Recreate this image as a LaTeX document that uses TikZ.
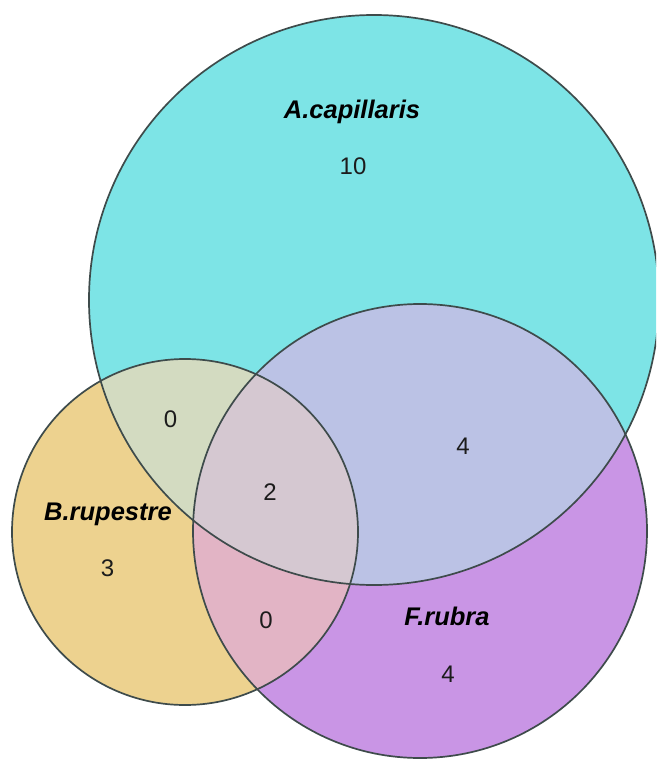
\documentclass[tikz,border=0pt]{standalone}
\usepackage{fontspec}
\setmainfont{Liberation Sans}
% set fills and their overlaps
\definecolor{fillA}{HTML}{7DE4E6}
\definecolor{fillB}{HTML}{EDD28F}
\definecolor{fillF}{HTML}{C995E5}
\definecolor{fillAB}{HTML}{D3DBC1}
\definecolor{fillAF}{HTML}{BBC2E5}
\definecolor{fillBF}{HTML}{E2B4C5}
\definecolor{fillABF}{HTML}{D5C8D1}
\definecolor{edgegray}{HTML}{3E4B4B}
\definecolor{textdark}{HTML}{1C1C1C}
% the three sets
\def\setA{(374,300) circle[radius=285pt]}
\def\setB{(185,532) circle[radius=173pt]}
\def\setF{(420,531) circle[radius=227pt]}
\begin{document}
\begin{tikzpicture}[x=1pt,y=-1pt,
  setline/.style={draw=edgegray, line width=1.7pt},
  count/.style={font=\fontsize{24}{28}\selectfont, text=textdark, anchor=base, inner sep=0pt},
  setname/.style={font=\fontsize{25.5}{30}\selectfont\bfseries\itshape, text=black, anchor=base, inner sep=0pt}]
  \clip (0,0) rectangle (656,759);
  \fill[white] (0,0) rectangle (656,759);
  % single-set fills
  \fill[fillA] \setA;
  \fill[fillB] \setB;
  \fill[fillF] \setF;
  % pairwise overlaps
  \begin{scope}
    \clip \setA;
    \fill[fillAB] \setB;
    \fill[fillAF] \setF;
  \end{scope}
  \begin{scope}
    \clip \setB;
    \fill[fillBF] \setF;
  \end{scope}
  % triple overlap
  \begin{scope}
    \clip \setA;
    \clip \setB;
    \fill[fillABF] \setF;
  \end{scope}
  % outlines
  \draw[setline] \setA;
  \draw[setline] \setB;
  \draw[setline] \setF;
  % set names
  \node[setname] (nameA) at (352,119) {A.capillaris};
  \node[setname] (nameB) at (108,520) {B.rupestre};
  \node[setname] (nameF) at (447,625) {F.rubra};
  % region counts
  \node[count] (onlyA) at (353,175) {10};
  \node[count] (onlyB) at (107.5,576) {3};
  \node[count] (onlyF) at (448,682) {4};
  \node[count] (AB) at (170.5,427) {0};
  \node[count] (AF) at (463,454) {4};
  \node[count] (BF) at (266,628) {0};
  \node[count] (ABF) at (270,500) {2};
\end{tikzpicture}
\end{document}
